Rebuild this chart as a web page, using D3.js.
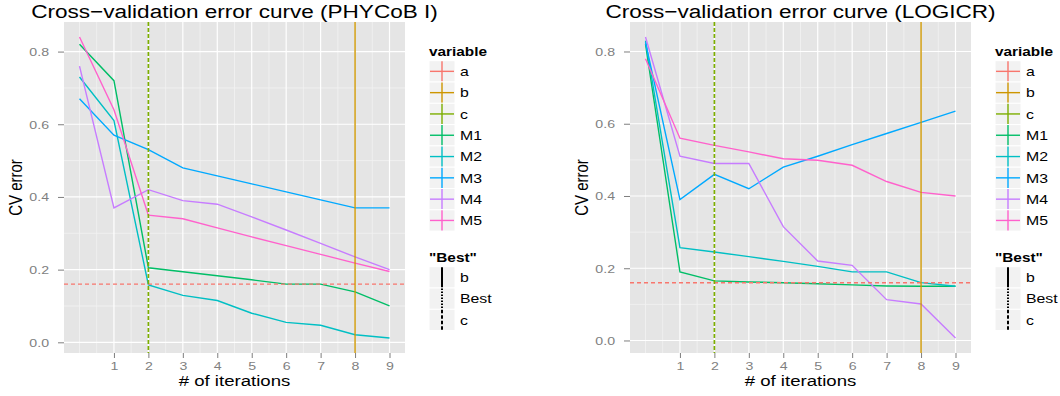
<!DOCTYPE html>
<html>
<head>
<meta charset="utf-8">
<script src="https://cdn.jsdelivr.net/npm/d3@7"></script>
<style>
  body { margin: 0; background: #ffffff; }
  svg text { font-family: "Liberation Sans", Arial, Helvetica, sans-serif; }
</style>
</head>
<body>
<svg id="chart" width="1060" height="396"></svg>
<script>
// ---- data -------------------------------------------------------------
const iterations = [0, 1, 2, 3, 4, 5, 6, 7, 8, 9];
const xTickValues = [1, 2, 3, 4, 5, 6, 7, 8, 9];
const yTickValues = [0, 0.2, 0.4, 0.6, 0.8];

const variableNames  = ["a", "b", "c", "M1", "M2", "M3", "M4", "M5"];
const variableColors = ["#F8766D", "#CD9600", "#7CAE00", "#00BE67", "#00BFC4", "#00A9FF", "#C77CFF", "#FF61CC"];
const modelNames = ["M1", "M2", "M3", "M4", "M5"];

const bestLabels = ["b", "Best", "c"];

// reference lines: a = best CV error level, b / c = chosen iteration counts
const levelA = 0.16;
const iterB = 8;
const iterC = 2;

// PHYCoB I
const phycobM1 = [0.82, 0.72, 0.205, 0.194, 0.183, 0.172, 0.160, 0.160, 0.139, 0.100];
const phycobM2 = [0.73, 0.61, 0.158, 0.129, 0.115, 0.080, 0.055, 0.047, 0.021, 0.012];
const phycobM3 = [0.67, 0.57, 0.53, 0.48, 0.458, 0.436, 0.414, 0.392, 0.370, 0.370];
const phycobM4 = [0.76, 0.37, 0.42, 0.39, 0.38, 0.345, 0.309, 0.272, 0.235, 0.200];
const phycobM5 = [0.84, 0.64, 0.35, 0.34, 0.315, 0.290, 0.266, 0.242, 0.218, 0.195];

// LOGICR
const logicrM1 = [0.82, 0.19, 0.165, 0.162, 0.160, 0.157, 0.154, 0.151, 0.150, 0.150];
const logicrM2 = [0.83, 0.257, 0.245, 0.232, 0.219, 0.205, 0.190, 0.190, 0.160, 0.150];
const logicrM3 = [0.825, 0.39, 0.46, 0.42, 0.48, 0.51, 0.542, 0.573, 0.604, 0.635];
const logicrM4 = [0.84, 0.51, 0.49, 0.49, 0.315, 0.22, 0.208, 0.113, 0.101, 0.007];
const logicrM5 = [0.78, 0.56, 0.54, 0.522, 0.503, 0.499, 0.485, 0.44, 0.41, 0.40];

// ---- drawing ----------------------------------------------------------
const svg = d3.select("#chart");
const color = d3.scaleOrdinal().domain(variableNames).range(variableColors);
const SX = 1.2;              // horizontal text stretch of the figure
const fmt = d3.format(".1f");

function hText(parent, x, y, str, size, opts = {}) {
  return parent.append("text")
    .attr("transform", `translate(${x},${y}) scale(${SX},1)`)
    .attr("text-anchor", opts.anchor || "start")
    .attr("font-size", size)
    .attr("font-weight", opts.bold ? "bold" : null)
    .attr("fill", opts.fill || "#000")
    .text(str);
}

function expand(ext, mult) {
  const pad = (ext[1] - ext[0]) * mult;
  return [ext[0] - pad, ext[1] + pad];
}

function drawPanel(p) {
  const g = svg.append("g");
  const allValues = p.series.flatMap(s => s.values).concat([levelA]);
  const x = d3.scaleLinear().domain(expand(d3.extent(iterations), 0.05)).range([p.left, p.right]);
  const y = d3.scaleLinear().domain(expand(d3.extent(allValues), 0.05)).range([p.bottom, p.top]);

  // panel background
  g.append("rect")
    .attr("x", p.left).attr("y", p.top)
    .attr("width", p.right - p.left).attr("height", p.bottom - p.top)
    .attr("fill", "#E5E5E5");

  // minor grid
  const xMinor = [0].concat(xTickValues.slice(0, -1).map(v => v - 0.5)).concat([8.5]);
  const yMinor = [0.1, 0.3, 0.5, 0.7];
  g.append("g").selectAll("line").data(xMinor).join("line")
    .attr("x1", d => x(d)).attr("x2", d => x(d))
    .attr("y1", p.top).attr("y2", p.bottom)
    .attr("stroke", "#F2F2F2").attr("stroke-width", 0.8);
  g.append("g").selectAll("line").data(yMinor).join("line")
    .attr("y1", d => y(d)).attr("y2", d => y(d))
    .attr("x1", p.left).attr("x2", p.right)
    .attr("stroke", "#F2F2F2").attr("stroke-width", 0.8);

  // major grid
  g.append("g").selectAll("line").data(xTickValues).join("line")
    .attr("x1", d => x(d)).attr("x2", d => x(d))
    .attr("y1", p.top).attr("y2", p.bottom)
    .attr("stroke", "#FFFFFF").attr("stroke-width", 1.2);
  g.append("g").selectAll("line").data(yTickValues).join("line")
    .attr("y1", d => y(d)).attr("y2", d => y(d))
    .attr("x1", p.left).attr("x2", p.right)
    .attr("stroke", "#FFFFFF").attr("stroke-width", 1.2);

  // model curves
  const line = d3.line().x((d, i) => x(iterations[i])).y(d => y(d));
  g.append("g").selectAll("path").data(p.series).join("path")
    .attr("d", s => line(s.values))
    .attr("fill", "none")
    .attr("stroke", s => color(s.name))
    .attr("stroke-width", 1.4);

  // reference lines
  g.append("line")
    .attr("x1", p.left).attr("x2", p.right)
    .attr("y1", y(levelA)).attr("y2", y(levelA))
    .attr("stroke", color("a")).attr("stroke-width", 1.4)
    .attr("stroke-dasharray", "4,3");
  g.append("line")
    .attr("x1", x(iterB)).attr("x2", x(iterB))
    .attr("y1", p.top).attr("y2", p.bottom)
    .attr("stroke", color("b")).attr("stroke-width", 1.4);
  g.append("line")
    .attr("x1", x(iterC)).attr("x2", x(iterC))
    .attr("y1", p.top).attr("y2", p.bottom)
    .attr("stroke", color("c")).attr("stroke-width", 1.7)
    .attr("stroke-dasharray", "4,2");

  // axes
  const xAxis = g.append("g")
    .attr("transform", `translate(0,${p.bottom})`)
    .call(d3.axisBottom(x).tickValues(xTickValues).tickFormat(d3.format("d")).tickSize(5).tickPadding(4));
  const yAxis = g.append("g")
    .attr("transform", `translate(${p.left},0)`)
    .call(d3.axisLeft(y).tickValues(yTickValues).tickFormat(fmt).tickSize(6).tickPadding(9));
  [xAxis, yAxis].forEach(ax => {
    ax.select(".domain").remove();
    ax.selectAll(".tick line").attr("stroke", "#7F7F7F").attr("stroke-width", 1);
    ax.selectAll(".tick text")
      .attr("fill", "#7F7F7F")
      .attr("font-size", 11.8)
      .attr("font-family", null);
  });
  xAxis.selectAll(".tick text").attr("transform", `scale(${SX},1)`);
  yAxis.selectAll(".tick text").attr("transform", `scale(${SX},1)`)
    .attr("x", -15 / SX);

  // titles
  const cx = (p.left + p.right) / 2;
  hText(g, cx, 18, p.title, 18.8, { anchor: "middle" });
  hText(g, cx, 386, "# of iterations", 15.5, { anchor: "middle" });
  g.append("text")
    .attr("transform", `translate(${p.left - 42},${(p.top + p.bottom) / 2}) rotate(-90) scale(1,${SX})`)
    .attr("text-anchor", "middle")
    .attr("font-size", 15)
    .text("CV error");

  // legends
  const lx = p.legendX;
  const keyW = 26, keyH = 21.3;
  hText(g, lx, 56, "variable", 12.8, { bold: true });
  const vKeys = g.append("g").selectAll("g").data(variableNames).join("g")
    .attr("transform", (d, i) => `translate(${lx},${60.7 + i * keyH})`);
  vKeys.append("rect").attr("width", keyW).attr("height", keyH)
    .attr("fill", "#F2F2F2").attr("stroke", "#FFFFFF").attr("stroke-width", 1);
  vKeys.append("line").attr("x1", 1).attr("x2", keyW - 1)
    .attr("y1", keyH / 2).attr("y2", keyH / 2)
    .attr("stroke", d => color(d)).attr("stroke-width", 1.4);
  vKeys.append("line").attr("x1", keyW / 2).attr("x2", keyW / 2)
    .attr("y1", 0.5).attr("y2", keyH - 0.5)
    .attr("stroke", d => color(d)).attr("stroke-width", 1.4);
  vKeys.each(function (d) {
    hText(d3.select(this), keyW + 5, keyH / 2 + 4.8, d, 13.2);
  });

  hText(g, lx, 262, "\"Best\"", 12.8, { bold: true });
  const bestDash = { "b": null, "Best": "1.5,1.5", "c": "3.5,2" };
  const bKeys = g.append("g").selectAll("g").data(bestLabels).join("g")
    .attr("transform", (d, i) => `translate(${lx},${266.7 + i * keyH})`);
  bKeys.append("rect").attr("width", keyW).attr("height", keyH)
    .attr("fill", "#F2F2F2").attr("stroke", "#FFFFFF").attr("stroke-width", 1);
  bKeys.append("line").attr("x1", keyW / 2).attr("x2", keyW / 2)
    .attr("y1", 0.5).attr("y2", keyH - 0.5)
    .attr("stroke", "#000").attr("stroke-width", 2)
    .attr("stroke-dasharray", d => bestDash[d]);
  bKeys.each(function (d) {
    hText(d3.select(this), keyW + 5, keyH / 2 + 4.8, d, 13.2);
  });
}

drawPanel({
  title: "Cross\u2212validation error curve (PHYCoB I)",
  left: 64, right: 405, top: 22, bottom: 353, legendX: 429,
  series: modelNames.map((n, i) => ({ name: n, values: [phycobM1, phycobM2, phycobM3, phycobM4, phycobM5][i] }))
});
drawPanel({
  title: "Cross\u2212validation error curve (LOGICR)",
  left: 630, right: 971, top: 22, bottom: 353, legendX: 995,
  series: modelNames.map((n, i) => ({ name: n, values: [logicrM1, logicrM2, logicrM3, logicrM4, logicrM5][i] }))
});
</script>
</body>
</html>
